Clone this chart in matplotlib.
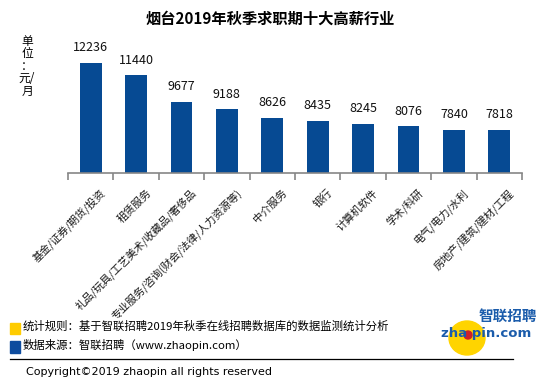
import matplotlib
matplotlib.use("Agg")
import matplotlib.pyplot as plt
import matplotlib.transforms as mtransforms
from matplotlib.patches import Rectangle, Ellipse
from matplotlib.lines import Line2D

plt.rcParams['font.family'] = ['Noto Sans CJK SC', 'DejaVu Sans']

industries = ["基金/证券/期货/投资", "租赁服务", "礼品/玩具/工艺美术/收藏品/奢侈品",
              "专业服务/咨询(财会/法律/人力资源等)", "中介服务", "银行", "计算机软件",
              "学术/科研", "电气/电力/水利", "房地产/建筑/建材/工程"]
salaries = [12236, 11440, 9677, 9188, 8626, 8435, 8245, 8076, 7840, 7818]

W, H = 554, 388
bar_color = "#064A93"
axis_gray = "#868686"


def px(x, y):
    return x / W, 1 - y / H


fig = plt.figure(figsize=(W / 100, H / 100), dpi=100)
ax = fig.add_axes([68 / W, 1 - 173 / H, (522 - 68) / W, (173 - 36.5) / H])

xs = list(range(len(salaries)))
ax.bar(xs, salaries, width=0.48, color=bar_color, zorder=2)
ax.set_xlim(-0.5, len(salaries) - 0.5)
ax.set_ylim(5000, 14000)

for spine in ["top", "right", "left"]:
    ax.spines[spine].set_visible(False)
ax.spines["bottom"].set_color(axis_gray)
ax.spines["bottom"].set_linewidth(1.2)
ax.set_yticks([])
ax.set_xticks([i - 0.5 for i in range(len(salaries) + 1)])
ax.set_xticklabels([])
ax.tick_params(axis="x", direction="out", length=5, color=axis_gray, width=1.2)

for x, v in zip(xs, salaries):
    ax.annotate(str(v), (x, v), xytext=(0, 11), textcoords="offset points",
                ha="center", va="center", fontsize=9, color="#111111")

# rotated category labels
for x, lab in zip(xs, industries):
    tr = mtransforms.offset_copy(ax.transData, fig=fig, x=13, y=-18, units="dots")
    ax.text(x, 5000, lab, transform=tr, rotation=45, rotation_mode="anchor",
            ha="right", va="center", fontsize=7.7, color="#1a1a1a")

fig.text(*px(270, 19), "烟台2019年秋季求职期十大高薪行业", ha="center", va="center",
         fontsize=11, fontweight="bold")
fig.text(*px(27, 66), "单\n位\n：\n元/\n月", ha="center", va="center",
         fontsize=8.5, linespacing=0.95)

# footer
fig.patches.append(Rectangle(px(10, 334), 10 / W, 11 / H, transform=fig.transFigure,
                             color="#FFCC00"))
fig.patches.append(Rectangle(px(10, 353), 10 / W, 12 / H, transform=fig.transFigure,
                             color="#0D4C9E"))
fig.text(*px(23, 326), "统计规则：基于智联招聘2019年秋季在线招聘数据库的数据监测统计分析",
         ha="left", va="center", fontsize=8.2)
fig.text(*px(23, 345), "数据来源：智联招聘（www.zhaopin.com）",
         ha="left", va="center", fontsize=8.2)
fig.lines.append(Line2D([10 / W, 513 / W], [1 - 359 / H] * 2, transform=fig.transFigure,
                        color="black", linewidth=0.9))
fig.text(*px(26, 372), "Copyright©2019 zhaopin all rights reserved",
         ha="left", va="center", fontsize=8, family="DejaVu Sans")

# logo
fig.patches.append(Ellipse(px(467, 338), 36 / W, 34 / H, transform=fig.transFigure,
                           color="#FFD400", zorder=0))
fig.patches.append(Ellipse(px(468, 335), 8 / W, 8 / H, transform=fig.transFigure,
                           color="#D0202A", zorder=1))
fig.text(*px(508, 316), "智联招聘", ha="center", va="center", fontsize=10.5,
         fontweight="bold", color="#1B5CAB", style="italic")
fig.text(*px(486, 334), "zha pin.com", ha="center", va="center", fontsize=9.5,
         fontweight="bold", color="#1B5CAB", family="DejaVu Sans")

fig.savefig("out.png", dpi=100)
